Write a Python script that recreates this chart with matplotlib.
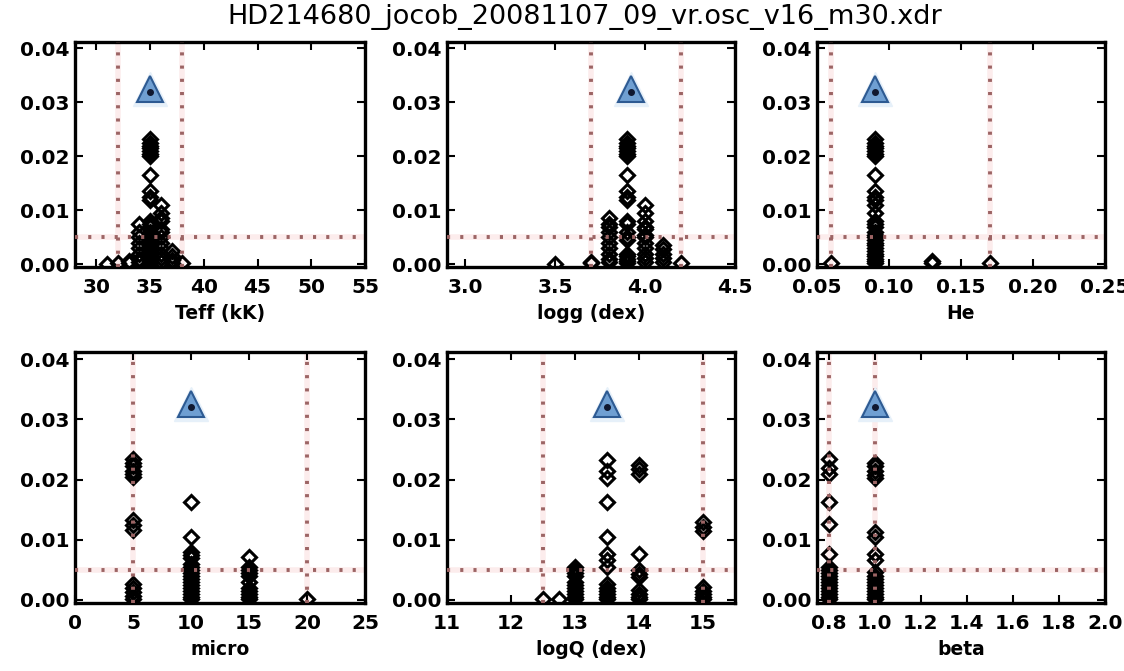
import matplotlib
matplotlib.use("Agg")
import matplotlib.pyplot as plt

title = "HD214680_jocob_20081107_09_vr.osc_v16_m30.xdr"

# fitness axis shared by every panel
fit_range = [-0.0005, 0.0412]
fit_ticks = [0.00, 0.01, 0.02, 0.03, 0.04]
fit_ticklabels = ["0.00", "0.01", "0.02", "0.03", "0.04"]
fit_threshold = 0.005
best_level = 0.0325

# Teff (kK)
teff_grid = [31, 32, 33, 34, 35, 36, 37, 38]
teff_fit = [
    [0.0001],
    [0.0003],
    [0.0006, 0.0002],
    [0.0075, 0.006, 0.005, 0.004, 0.003, 0.002, 0.001, 0.0004],
    [0.0232, 0.0225, 0.022, 0.0215, 0.021, 0.0205, 0.0200, 0.0165, 0.0135,
     0.0125, 0.012, 0.008, 0.0075, 0.007, 0.006, 0.0055, 0.005, 0.0045,
     0.004, 0.0035, 0.003, 0.0025, 0.002, 0.0015, 0.001, 0.0006, 0.0003],
    [0.011, 0.0095, 0.0085, 0.008, 0.0065, 0.006, 0.005, 0.004, 0.003,
     0.002, 0.0012, 0.0005],
    [0.0025, 0.0015, 0.0008, 0.0003],
    [0.0003],
]
teff_best = 35.0
teff_bounds = [32.0, 38.0]
teff_range = [28, 55]
teff_ticks = [30, 35, 40, 45, 50, 55]
teff_ticklabels = ["30", "35", "40", "45", "50", "55"]

# logg (dex)
logg_grid = [3.5, 3.7, 3.8, 3.9, 4.0, 4.1, 4.2]
logg_fit = [
    [0.0001],
    [0.0005, 0.0002],
    [0.0085, 0.0075, 0.007, 0.006, 0.005, 0.004, 0.003, 0.002, 0.001, 0.0004],
    [0.0232, 0.0225, 0.022, 0.0215, 0.021, 0.0205, 0.0200, 0.0165, 0.0135,
     0.0125, 0.012, 0.008, 0.0075, 0.006, 0.005, 0.0045, 0.002, 0.0015,
     0.001, 0.0006, 0.0003],
    [0.011, 0.0095, 0.008, 0.007, 0.0065, 0.0055, 0.005, 0.004, 0.003,
     0.002, 0.0012, 0.0005],
    [0.0035, 0.0028, 0.002, 0.0012, 0.0005],
    [0.0003],
]
logg_best = 3.92
logg_bounds = [3.7, 4.2]
logg_range = [2.9, 4.5]
logg_ticks = [3.0, 3.5, 4.0, 4.5]
logg_ticklabels = ["3.0", "3.5", "4.0", "4.5"]

# He abundance
he_grid = [0.06, 0.09, 0.13, 0.17]
he_fit = [
    [0.0003],
    [0.0232, 0.0225, 0.022, 0.0215, 0.021, 0.0205, 0.0200, 0.0165, 0.0135,
     0.0125, 0.012, 0.011, 0.0095, 0.008, 0.0075, 0.007, 0.006, 0.0055,
     0.005, 0.0045, 0.004, 0.0035, 0.003, 0.0025, 0.002, 0.0015, 0.001,
     0.0006, 0.0003],
    [0.0006, 0.0002],
    [0.0003],
]
he_best = 0.09
he_bounds = [0.06, 0.17]
he_range = [0.05, 0.25]
he_ticks = [0.05, 0.10, 0.15, 0.20, 0.25]
he_ticklabels = ["0.05", "0.10", "0.15", "0.20", "0.25"]

# microturbulence
micro_grid = [5, 10, 15, 20]
micro_fit = [
    [0.0235, 0.0228, 0.0222, 0.0215, 0.021, 0.0204, 0.0133, 0.0125, 0.0116,
     0.0027, 0.002, 0.0013, 0.0006, 0.0002],
    [0.0162, 0.0105, 0.008, 0.0075, 0.007, 0.006, 0.0055, 0.005, 0.0045,
     0.004, 0.0035, 0.003, 0.0025, 0.002, 0.0015, 0.001, 0.0005, 0.0002],
    [0.0072, 0.0055, 0.005, 0.0045, 0.004, 0.003, 0.002, 0.0015, 0.001,
     0.0005, 0.0002],
    [0.0001],
]
micro_best = 10.0
micro_bounds = [5.0, 20.0]
micro_range = [0, 25]
micro_ticks = [0, 5, 10, 15, 20, 25]
micro_ticklabels = ["0", "5", "10", "15", "20", "25"]

# log Q (dex)
logq_grid = [12.5, 12.75, 13.0, 13.5, 14.0, 15.0]
logq_fit = [
    [0.0002],
    [0.0002],
    [0.0055, 0.005, 0.0045, 0.004, 0.003, 0.0025, 0.002, 0.0015, 0.001,
     0.0005, 0.0002],
    [0.0233, 0.0214, 0.0203, 0.0162, 0.0104, 0.0077, 0.0066, 0.0055,
     0.0027, 0.002, 0.0015, 0.001, 0.0005, 0.0002],
    [0.0225, 0.0218, 0.021, 0.0077, 0.005, 0.0044, 0.0038, 0.0016, 0.001,
     0.0005, 0.0002],
    [0.013, 0.0122, 0.0115, 0.0022, 0.0015, 0.001, 0.0005, 0.0002],
]
logq_best = 13.5
logq_bounds = [12.5, 15.0]
logq_range = [11, 15.5]
logq_ticks = [11, 12, 13, 14, 15]
logq_ticklabels = ["11", "12", "13", "14", "15"]

# beta
beta_grid = [0.8, 1.0]
beta_fit = [
    [0.0234, 0.022, 0.0209, 0.0162, 0.0126, 0.0077, 0.0055, 0.005, 0.0045,
     0.004, 0.0035, 0.003, 0.0025, 0.002, 0.0015, 0.001, 0.0005, 0.0002],
    [0.0228, 0.0222, 0.0215, 0.0208, 0.0203, 0.0113, 0.0104, 0.0077,
     0.0066, 0.0047, 0.004, 0.0035, 0.003, 0.0025, 0.002, 0.0015, 0.001,
     0.0005, 0.0002],
]
beta_best = 1.0
beta_bounds = [0.8, 1.0]
beta_range = [0.75, 2.0]
beta_ticks = [0.8, 1.0, 1.2, 1.4, 1.6, 1.8, 2.0]
beta_ticklabels = ["0.8", "1.0", "1.2", "1.4", "1.6", "1.8", "2.0"]

panels = [
    ("Teff (kK)", teff_grid, teff_fit, teff_best, teff_bounds, teff_range,
     teff_ticks, teff_ticklabels),
    ("logg (dex)", logg_grid, logg_fit, logg_best, logg_bounds, logg_range,
     logg_ticks, logg_ticklabels),
    ("He", he_grid, he_fit, he_best, he_bounds, he_range,
     he_ticks, he_ticklabels),
    ("micro", micro_grid, micro_fit, micro_best, micro_bounds, micro_range,
     micro_ticks, micro_ticklabels),
    ("logQ (dex)", logq_grid, logq_fit, logq_best, logq_bounds, logq_range,
     logq_ticks, logq_ticklabels),
    ("beta", beta_grid, beta_fit, beta_best, beta_bounds, beta_range,
     beta_ticks, beta_ticklabels),
]

W, H = 1124, 671
fig = plt.figure(figsize=(W / 100, H / 100), dpi=100)

col_left = [75, 447, 817]
col_width = [290, 288, 288]
row_span = [(42, 267), (352, 603)]

dot_color = "#9c6464"
glow_color = "#fcecec"
dotted = (0, (0.8, 2.6))

for i, (label, grid, fits, best, bounds, xr, ticks, ticklabels) in enumerate(panels):
    r, c = divmod(i, 3)
    top, bottom = row_span[r]
    ax = fig.add_axes([col_left[c] / W, 1 - bottom / H,
                       col_width[c] / W, (bottom - top) / H])
    ax.set_xlim(xr)
    ax.set_ylim(fit_range)

    # acceptance limits
    ax.axhline(fit_threshold, color=glow_color, lw=4, zorder=1)
    ax.axhline(fit_threshold, color=dot_color, lw=2.8, ls=dotted, zorder=4)
    for b in bounds:
        ax.axvline(b, color=glow_color, lw=4, zorder=1)
        ax.axvline(b, color=dot_color, lw=2.8, ls=dotted, zorder=4)

    # model fitness values
    for x, ys in zip(grid, fits):
        ax.plot([x] * len(ys), ys, "D", mfc="none", mec="black", mew=2.2,
                ms=7, zorder=3)

    # best-fitting model
    ax.plot(best, best_level, "^", ms=25, color="#e6f0f9", zorder=5)
    ax.plot(best, best_level, "^", ms=19, mfc="#6f9fd2", mec="#2d5a92",
            mew=1.5, zorder=6)
    ax.plot(best, best_level - 0.0005, "o", ms=4, color="#101830", zorder=7)

    ax.set_xticks(ticks)
    ax.set_xticklabels(ticklabels, fontweight="bold", fontsize=14.5)
    ax.set_yticks(fit_ticks)
    ax.set_yticklabels(fit_ticklabels, fontweight="bold", fontsize=14.5)
    ax.tick_params(direction="in", length=6, width=1.5, top=True, right=True)
    ax.tick_params(axis="x", pad=8)
    ax.tick_params(axis="y", pad=4)
    ax.set_xlabel(label, fontweight="bold", fontsize=13.5, labelpad=5)
    for s in ax.spines.values():
        s.set_linewidth(2.4)

fig.text(585 / W, 1 - 4 / H, title, ha="center", va="top", fontsize=19.5)

fig.savefig("out.png", dpi=100)
